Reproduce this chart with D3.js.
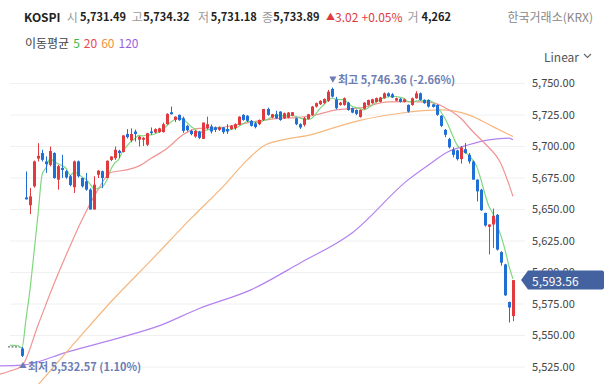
<!DOCTYPE html>
<html>
<head>
<meta charset="utf-8">
<script src="https://cdn.jsdelivr.net/npm/d3@7"></script>
<style>
  body { margin: 0; background: #fff; }
  svg { display: block; font-family: "Noto Sans CJK KR", "Noto Sans", sans-serif; }
</style>
</head>
<body>
<svg id="chart" width="613" height="384"></svg>
<script>
// candles, one per bar, left to right
const opens = [
  5539.3, 5659.2, 5653, 5668, 5690, 5694.4, 5687.7, 5685, 5694.4, 5673.3,
  5682.5, 5680, 5676, 5667.3, 5687.8, 5674.6, 5672, 5665.4, 5649.6, 5677.2,
  5680, 5674.6, 5689, 5690.4, 5696.2, 5695.2, 5709.5, 5704.5, 5711.5, 5705,
  5705, 5701, 5711.5, 5710.7, 5711, 5711, 5717.3, 5726.8, 5720.7, 5724.7,
  5722, 5716, 5712, 5707.5, 5711.5, 5705.7, 5714.2, 5715.6, 5714.8, 5712.8,
  5714.8, 5713.5, 5713.4, 5714.2, 5716.8, 5724.7, 5724, 5720, 5718, 5717.3,
  5720.7, 5729.4, 5722.6, 5725.2, 5727.3, 5722, 5722.5, 5724, 5722, 5717.3,
  5716.8, 5721.5, 5724.7, 5731.3, 5733.2, 5734, 5735.8, 5745.3, 5737, 5732.6,
  5732.6, 5734.4, 5730, 5728.6, 5723, 5729.5, 5732.6, 5734, 5735, 5735,
  5737.9, 5741.8, 5741, 5736, 5737.5, 5735, 5732.6, 5732.6, 5737.9, 5741.8,
  5736.6, 5736.6, 5733, 5732.6, 5724, 5712.8, 5705.5, 5697, 5696.5, 5689.6,
  5697.5, 5693, 5687.7, 5673.3, 5665.3, 5646.9, 5635.9, 5637.7, 5645.4, 5615.8,
  5606, 5576.2, 5565
];
const highs = [
  5540.5, 5679.8, 5666.7, 5688.5, 5702.3, 5697, 5691.7, 5699.6, 5695, 5685,
  5693, 5681, 5677, 5688.5, 5688.5, 5675, 5678.6, 5666.5, 5676, 5681,
  5680.5, 5688.5, 5691.7, 5699.6, 5697, 5708.5, 5713.4, 5714, 5713, 5708,
  5707, 5710.5, 5714.7, 5714, 5714.5, 5718.6, 5726, 5731.3, 5723.5, 5725,
  5723.3, 5716.8, 5713, 5712.5, 5712, 5718.6, 5723.3, 5717, 5715.5, 5715.5,
  5715, 5717.3, 5716.5, 5718, 5723.5, 5725.2, 5724.5, 5720.7, 5719, 5721,
  5729.4, 5730.5, 5725.5, 5728, 5727.5, 5726.5, 5727, 5727, 5722.5, 5718,
  5723, 5725.5, 5731.8, 5734.5, 5736.3, 5737.8, 5744.5, 5746.36, 5739, 5735,
  5738.5, 5735, 5730.5, 5729, 5729, 5734.8, 5736.8, 5737.5, 5738.5, 5739,
  5742.5, 5742.5, 5742, 5738.5, 5738, 5737.5, 5733, 5738.5, 5743.5, 5742.5,
  5737, 5737, 5733.5, 5733, 5724.5, 5713.5, 5706.5, 5699, 5697, 5700,
  5702.3, 5694.5, 5688.5, 5673.5, 5666, 5647, 5637.7, 5650.3, 5646, 5616.5,
  5606.5, 5576.5, 5593.56
];
const lows = [
  5532.57, 5657.5, 5646, 5667, 5687.7, 5687.7, 5678.6, 5683.8, 5674, 5665.3,
  5674.6, 5674, 5668, 5662.7, 5675, 5667, 5664.5, 5649.6, 5649.6, 5674.6,
  5666.7, 5674.6, 5688, 5689, 5690.4, 5694.9, 5706, 5703, 5703.6, 5699.6,
  5700, 5700, 5709, 5710, 5710.5, 5710.7, 5717, 5725, 5719, 5720,
  5710.5, 5711.5, 5708.5, 5706.5, 5705.5, 5705.5, 5713, 5710, 5711, 5712,
  5709.6, 5709.6, 5713, 5712.8, 5716.5, 5720, 5719, 5715.5, 5714, 5716.5,
  5719.9, 5724, 5722, 5721.5, 5720, 5721.5, 5722, 5723.5, 5716.5, 5713.5,
  5715.5, 5721, 5724, 5730.5, 5732.5, 5733.5, 5735, 5738.5, 5729, 5732,
  5732, 5728, 5726, 5724.5, 5722.5, 5729, 5732, 5733.5, 5734.5, 5734.5,
  5737.5, 5739, 5738, 5735.5, 5734.5, 5734.5, 5726.5, 5732, 5737.5, 5736,
  5733.5, 5730.5, 5730.5, 5724, 5715, 5707, 5698, 5691, 5688.5, 5686,
  5694, 5686, 5673.3, 5656, 5648.5, 5636, 5613.9, 5619, 5617, 5605,
  5581, 5559.9, 5561
];
const closes = [
  5533.5, 5657.7, 5660, 5687.8, 5692.2, 5689, 5685.7, 5696, 5674.6, 5684,
  5681, 5675, 5669, 5687.8, 5676, 5668, 5665.4, 5649.6, 5669.3, 5680.4,
  5674.6, 5688.3, 5691.7, 5697, 5694.4, 5708.4, 5707, 5709.5, 5709.5, 5707.5,
  5706.5, 5710.2, 5710.2, 5713.4, 5714, 5717.3, 5725.5, 5725.2, 5723.3, 5720.5,
  5712, 5712.5, 5709.4, 5712, 5706.5, 5718.6, 5717.3, 5711.5, 5712.8, 5714.8,
  5711, 5711.5, 5716, 5717.3, 5723.3, 5720.7, 5720, 5716, 5715, 5720.7,
  5729.4, 5724.7, 5725.2, 5722, 5720.7, 5726, 5726.5, 5726.8, 5717.3, 5714.7,
  5722, 5725.2, 5731.3, 5734, 5735.8, 5737.3, 5743.1, 5739.2, 5730, 5734.4,
  5737.9, 5728.6, 5726.5, 5725.5, 5728.6, 5734.4, 5736.5, 5737.1, 5738, 5738.5,
  5741.8, 5739.7, 5738.5, 5737.9, 5735, 5737, 5727.3, 5737.9, 5741.8, 5736.6,
  5734, 5731.3, 5731, 5724.7, 5716, 5708.9, 5699, 5693, 5689.6, 5698.8,
  5694.4, 5687.7, 5673.3, 5664, 5649, 5636.9, 5637.7, 5644.6, 5617.8, 5607.4,
  5581.5, 5571.8, 5593.56
];
// closes of the bars just before the first shown one (they only feed the MA5)
const prevCloses = [5540.2, 5542.5, 5541, 5543.1, 5542, 5540.5, 5540.6];

// longer moving averages at a few bars
const ma20Idx = [-6, -3, 0, 4, 8, 12, 15, 19, 22, 26, 29, 32, 36, 40, 44, 49, 54, 59, 64, 68, 72, 78, 84, 91, 96, 102, 105, 109, 112, 115, 119, 122];
const ma20Val = [5518.5, 5521.4, 5525.6, 5558, 5591, 5621, 5642, 5666, 5679, 5681, 5684, 5690, 5698, 5709, 5714, 5714.6, 5717.3, 5720, 5722, 5722.5, 5724, 5728.6, 5730.2, 5735, 5735.2, 5734.4, 5730.5, 5722, 5711.5, 5702, 5686, 5660];
const ma60Idx = [-6, 4, 13, 22, 32, 42, 50, 56, 60, 65, 72, 77, 84, 94, 104, 111, 117, 122];
const ma60Val = [5474, 5510.5, 5543.5, 5576, 5609, 5642.5, 5668, 5689, 5700, 5705, 5709, 5714, 5720.3, 5726, 5728.6, 5724.7, 5715.4, 5707.5];
const ma120Idx = [-6, 0, 11, 23, 34, 44, 57, 69, 82, 96, 101, 106, 111, 116, 121, 122];
const ma120Val = [5525.5, 5526.1, 5536.2, 5546.7, 5557.2, 5571, 5586, 5607, 5631, 5673.3, 5685, 5695.6, 5701, 5704.9, 5706.3, 5705];

const yTicks = [5525, 5550, 5575, 5600, 5625, 5650, 5675, 5700, 5725, 5750];
const maLegend = ['5', '20', '60', '120'];

const svg = d3.select('#chart');

const x = d3.scaleLinear().domain([0, 122]).range([22, 513]);
const y = d3.scaleLinear().domain([5525, 5750]).range([366.5, 83]);

const upColor = '#e03a3e';
const downColor = '#1f6fd6';

// header
const head = svg.append('text').attr('y', 16).attr('dominant-baseline', 'central')
  .attr('font-size', 11);
head.append('tspan').attr('x', 24).attr('font-weight', 'bold').attr('fill', '#222').attr('font-size', 12).text('KOSPI');
const hdr = [['시', '5,731.49', 66.7, 80], ['고', '5,734.32', 131.7, 143.3], ['저', '5,731.18', 198, 210.7], ['종', '5,733.89', 262, 273.3]];
hdr.forEach(([k, v, kx, vx]) => {
  head.append('tspan').attr('x', kx).attr('fill', '#999').attr('font-size', 12).text(k);
  head.append('tspan').attr('x', vx).attr('fill', '#222').attr('font-weight', 'bold').text(v);
});
head.append('tspan').attr('x', 326).attr('fill', upColor).attr('font-size', 9).text('▲');
head.append('tspan').attr('x', 335).attr('fill', upColor).attr('font-size', 12).text('3.02');
head.append('tspan').attr('x', 361.5).attr('fill', upColor).attr('font-size', 12).text('+0.05%');
head.append('tspan').attr('x', 407.5).attr('fill', '#999').attr('font-size', 12).text('거');
head.append('tspan').attr('x', 421.5).attr('fill', '#222').attr('font-weight', 'bold').text('4,262');

svg.append('text').attr('x', 593).attr('y', 16).attr('dominant-baseline', 'central')
  .attr('text-anchor', 'end').attr('font-size', 12).attr('fill', '#888').text('한국거래소(KRX)');

const leg = svg.append('text').attr('x', 25).attr('y', 42).attr('dominant-baseline', 'central').attr('font-size', 12);
leg.append('tspan').attr('fill', '#444').text('이동평균');
const legColors = ['#3db54a', '#e8484e', '#f09040', '#9a5fe0'];
maLegend.forEach((t, i) => leg.append('tspan').attr('dx', 4).attr('fill', legColors[i]).text(t));

svg.append('text').attr('x', 544).attr('y', 56).attr('dominant-baseline', 'central')
  .attr('font-size', 12).attr('fill', '#555').text('Linear');
svg.append('path').attr('d', 'M584,54 L587.5,57.5 L591,54').attr('fill', 'none')
  .attr('stroke', '#666').attr('stroke-width', 1.1);

// grid + right axis
const axis = svg.append('g').attr('transform', 'translate(525,0)')
  .call(d3.axisRight(y).tickValues(yTicks).tickSize(-515).tickPadding(7).tickFormat(d3.format(',.2f')));
axis.select('.domain').remove();
axis.selectAll('.tick line').attr('stroke', '#eff0f2');
axis.selectAll('.tick text').attr('fill', '#444').attr('font-size', 11)
  .attr('font-family', '"Noto Sans CJK KR", "Noto Sans", sans-serif');

const defs = svg.append('defs');
defs.append('clipPath').attr('id', 'plot').append('rect')
  .attr('x', 0).attr('y', 62).attr('width', 521).attr('height', 322);

const plot = svg.append('g').attr('clip-path', 'url(#plot)');

// previous close dashed stub
plot.append('line').attr('x1', 8).attr('x2', 20)
  .attr('y1', y(prevCloses[prevCloses.length - 1])).attr('y2', y(prevCloses[prevCloses.length - 1]))
  .attr('stroke', '#777').attr('stroke-width', 1.2).attr('stroke-dasharray', '2,1.5');

// moving averages
const allCloses = prevCloses.concat(closes);
const off = prevCloses.length;
const ma5 = d3.range(-3, closes.length).map(i => ({ i, v: d3.mean(allCloses.slice(i + off - 4, i + off + 1)) }));
const zipMa = (idx, val) => idx.map((i, k) => ({ i, v: val[k] }));

const smooth = d3.line().x(d => x(d.i)).y(d => y(d.v)).curve(d3.curveMonotoneX);

plot.append('path').datum(zipMa(ma120Idx, ma120Val)).attr('d', smooth)
  .attr('fill', 'none').attr('stroke', '#b482ef').attr('stroke-width', 1.2);
plot.append('path').datum(zipMa(ma60Idx, ma60Val)).attr('d', smooth)
  .attr('fill', 'none').attr('stroke', '#f6b77f').attr('stroke-width', 1.2);
plot.append('path').datum(zipMa(ma20Idx, ma20Val)).attr('d', smooth)
  .attr('fill', 'none').attr('stroke', '#f29393').attr('stroke-width', 1.2);
plot.append('path').datum(ma5).attr('d', smooth)
  .attr('fill', 'none').attr('stroke', '#7fd87f').attr('stroke-width', 1.2);

// candles
const candles = plot.selectAll('.c').data(closes).enter().append('g').attr('class', 'c');
candles.append('line')
  .attr('x1', (d, i) => Math.round(x(i)) + 0.5).attr('x2', (d, i) => Math.round(x(i)) + 0.5)
  .attr('y1', (d, i) => y(highs[i])).attr('y2', (d, i) => y(lows[i]))
  .attr('stroke', (d, i) => d >= opens[i] ? upColor : downColor).attr('stroke-width', 1);
candles.append('rect')
  .attr('x', (d, i) => Math.round(x(i)) - 1)
  .attr('y', (d, i) => y(Math.max(d, opens[i])))
  .attr('width', 3)
  .attr('height', (d, i) => Math.max(1, y(Math.min(d, opens[i])) - y(Math.max(d, opens[i]))))
  .attr('fill', (d, i) => d >= opens[i] ? upColor : downColor);

// high / low markers
const hiIdx = d3.maxIndex(highs), loIdx = d3.minIndex(lows);
const markColor = '#6c7db5';
const tri = d3.symbol().type(d3.symbolTriangle).size(22);
svg.append('path').attr('d', tri).attr('fill', markColor)
  .attr('transform', `translate(${x(hiIdx) + 1},${y(highs[hiIdx]) - 9}) rotate(180)`);
svg.append('text').attr('x', x(hiIdx) + 6).attr('y', y(highs[hiIdx]) - 8.5)
  .attr('dominant-baseline', 'central').attr('font-size', 11).attr('font-weight', 'bold').attr('fill', markColor)
  .text('최고 ' + d3.format(',.2f')(highs[hiIdx]) + ' (-2.66%)');
svg.append('path').attr('d', tri).attr('fill', markColor)
  .attr('transform', `translate(${x(loIdx) + 1},${y(lows[loIdx]) + 9})`);
svg.append('text').attr('x', x(loIdx) + 6).attr('y', y(lows[loIdx]) + 9.5)
  .attr('dominant-baseline', 'central').attr('font-size', 11).attr('font-weight', 'bold').attr('fill', markColor)
  .text('최저 ' + d3.format(',.2f')(lows[loIdx]) + ' (1.10%)');

// last price flag (drawn over the nearby tick label, as in the source)
const last = closes[closes.length - 1];
const ly = y(last);
svg.append('path')
  .attr('d', `M521,${ly} L528,${ly - 9.5} L602,${ly - 9.5} Q604,${ly - 9.5} 604,${ly - 7.5} L604,${ly + 7.5} Q604,${ly + 9.5} 602,${ly + 9.5} L528,${ly + 9.5} Z`)
  .attr('fill', '#4562a0');
svg.append('text').attr('x', 532).attr('y', ly).attr('dominant-baseline', 'central')
  .attr('font-size', 12).attr('fill', '#fff').text(d3.format(',.2f')(last));
</script>
</body>
</html>
